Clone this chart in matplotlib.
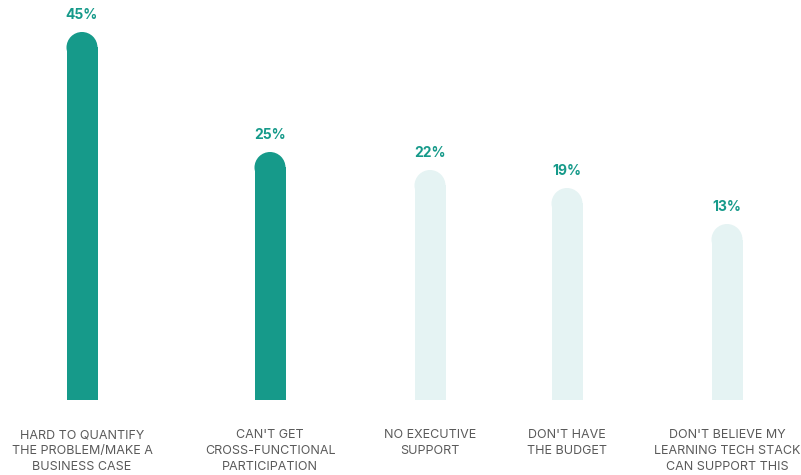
import numpy as np
import matplotlib.pyplot as plt

# data
categories = [
    "HARD TO QUANTIFY\nTHE PROBLEM/MAKE A\nBUSINESS CASE",
    "CAN'T GET\nCROSS-FUNCTIONAL\nPARTICIPATION",
    "NO EXECUTIVE\nSUPPORT",
    "DON'T HAVE\nTHE BUDGET",
    "DON'T BELIEVE MY\nLEARNING TECH STACK\nCAN SUPPORT THIS",
]
values = [45, 25, 22, 19, 13]
highlighted = [True, True, False, False, False]

# layout (bar centres across the 801 px wide canvas)
slot_x = [82, 270, 430, 567, 727]

DARK = "#169a8a"
LIGHT = "#e5f3f3"
TEXT = "#5a5a5a"

plt.rcParams['font.family'] = ['Inter', 'DejaVu Sans']

fig = plt.figure(figsize=(8.01, 4.75), dpi=100)
ax = fig.add_axes([0, 75 / 475, 1, 400 / 475])
ymin, ymax = -16.33, 50.33
ax.set_xlim(0, 801)
ax.set_ylim(ymin, ymax)

bar_w = 31
px_per_unit = 400 / (ymax - ymin)
r = (bar_w / 2) / px_per_unit
colors = [DARK if h else LIGHT for h in highlighted]

tops = np.array(values) - r
ax.bar(slot_x, tops - ymin, bottom=ymin, width=bar_w, color=colors, linewidth=0)
ax.scatter(slot_x, tops, s=(bar_w * 72 / 100) ** 2, c=colors, marker='o',
           linewidths=0, zorder=3)

for x, v in zip(slot_x, values):
    ax.annotate(f"{v}%", (x, v), xytext=(0, 7), textcoords='offset points',
                ha='center', va='bottom', fontsize=10, fontweight='bold',
                color=DARK)

ax.set_xticks(slot_x)
ax.set_xticklabels(categories, fontsize=9, color=TEXT, linespacing=1.42)
ax.tick_params(axis='x', length=0, pad=21)
ax.set_yticks([])
for s in ax.spines.values():
    s.set_visible(False)

fig.savefig("out.png", dpi=100)
